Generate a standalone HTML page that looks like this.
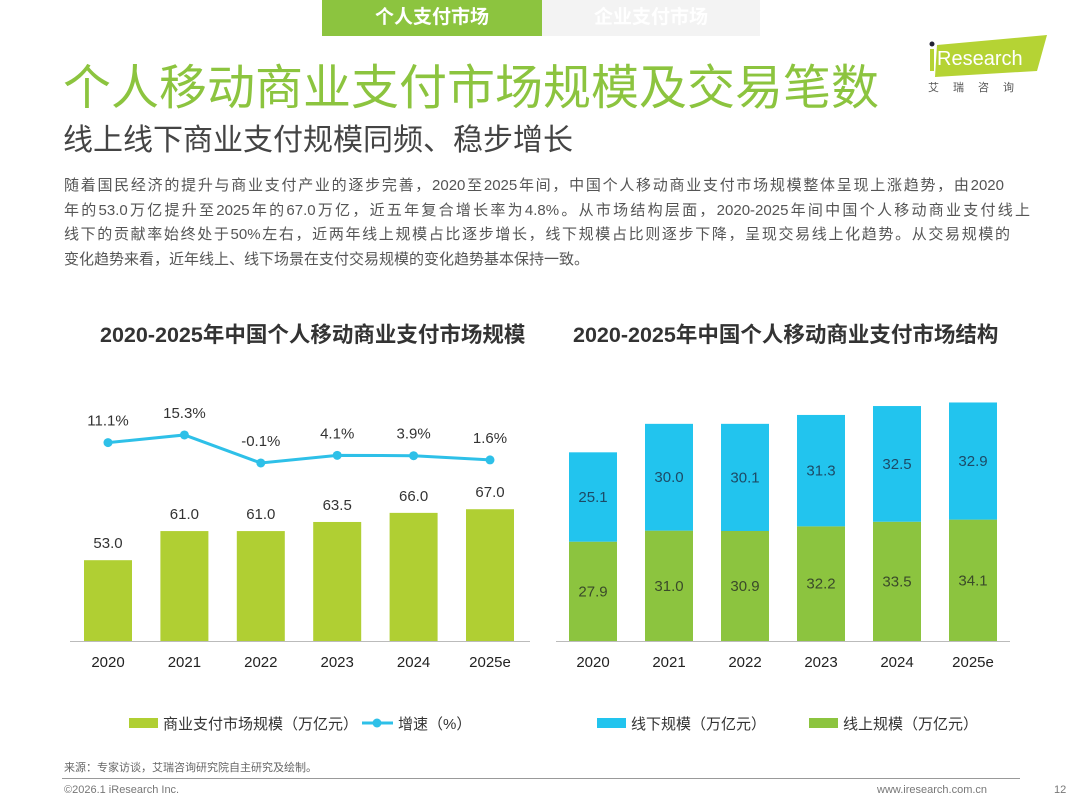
<!DOCTYPE html>
<html><head><meta charset="utf-8">
<style>
body{margin:0;width:1080px;height:810px;background:#fff;overflow:hidden;position:relative;font-family:"Liberation Sans","Noto Sans CJK SC",sans-serif;}
.abs{position:absolute;}
.ln{display:block;white-space:nowrap;text-align:justify;text-align-last:justify;overflow:hidden;height:24.5px;}
</style></head><body>
<div class="abs" style="left:322px;top:0;width:220px;height:36px;background:#8cc43f;color:#fff;font-size:19px;font-weight:bold;text-align:center;line-height:36px;">个人支付市场</div>
<div class="abs" style="left:542px;top:0;width:218px;height:36px;background:#f3f3f3;color:#fff;font-size:19px;font-weight:bold;text-align:center;line-height:36px;">企业支付市场</div>
<div class="abs" style="left:63px;top:48px;font-size:48px;color:#8cc43f;white-space:nowrap;">个人移动商业支付市场规模及交易笔数</div>
<div class="abs" style="left:63px;top:115px;font-size:30px;color:#444;white-space:nowrap;">线上线下商业支付规模同频、稳步增长</div>
<div class="abs" style="left:925px;top:35px;width:125px;height:60px;">
<svg width="125" height="60"><polygon points="12,10 122,0 112,36 10,42" fill="#b5d334"/><circle cx="7" cy="9" r="2.5" fill="#223"/><rect x="5" y="14" width="4" height="22" fill="#b5d334"/><text x="12" y="30" font-size="20" fill="#fff" font-family="Liberation Sans">Research</text><text x="3" y="56" font-size="11" fill="#555" letter-spacing="14">艾瑞咨询</text></svg></div>
<div class="abs" style="left:64px;top:174px;font-size:15px;line-height:24.5px;color:#555;">
<span class="ln" style="width:940px">随着国民经济的提升与商业支付产业的逐步完善，2020至2025年间，中国个人移动商业支付市场规模整体呈现上涨趋势，由2020</span>
<span class="ln" style="width:966px">年的53.0万亿提升至2025年的67.0万亿，近五年复合增长率为4.8%。从市场结构层面，2020-2025年间中国个人移动商业支付线上</span>
<span class="ln" style="width:946px">线下的贡献率始终处于50%左右，近两年线上规模占比逐步增长，线下规模占比则逐步下降，呈现交易线上化趋势。从交易规模的</span>
<span class="ln" style="width:570px;text-align-last:auto">变化趋势来看，近年线上、线下场景在支付交易规模的变化趋势基本保持一致。</span>
</div>
<div class="abs" style="left:100px;top:318px;font-size:21.5px;font-weight:bold;color:#333;white-space:nowrap;">2020-2025年中国个人移动商业支付市场规模</div>
<div class="abs" style="left:573px;top:318px;font-size:21.5px;font-weight:bold;color:#333;white-space:nowrap;">2020-2025年中国个人移动商业支付市场结构</div>
<svg class="abs" style="left:0;top:0" width="1080" height="810" id="charts" font-family="Liberation Sans, Noto Sans CJK SC, sans-serif"></svg>
<div class="abs" style="left:64px;top:759px;font-size:11px;color:#666;">来源：专家访谈，艾瑞咨询研究院自主研究及绘制。</div>
<div class="abs" style="left:62px;top:778px;width:958px;height:1px;background:#999;"></div>
<div class="abs" style="left:64px;top:784px;font-size:11px;color:#777;">©2026.1 iResearch Inc.</div>
<div class="abs" style="left:877px;top:784px;font-size:11px;color:#777;">www.iresearch.com.cn</div>
<div class="abs" style="left:1054px;top:784px;font-size:11px;color:#777;">12</div>
<script>
const years=["2020","2021","2022","2023","2024","2025e"];
const marketSize=[53.0,61.0,61.0,63.5,66.0,67.0];
const growth=[11.1,15.3,-0.1,4.1,3.9,1.6];
const offline=[25.1,30.0,30.1,31.3,32.5,32.9];
const online=[27.9,31.0,30.9,32.2,33.5,34.1];
const svg=document.getElementById('charts');
const NS='http://www.w3.org/2000/svg';
function mk(tag,attrs,txt){const e=document.createElementNS(NS,tag);for(const k in attrs)e.setAttribute(k,attrs[k]);if(txt!==undefined)e.textContent=txt;svg.appendChild(e);return e;}
const base=641;
const lx=i=>108+i*76.4;
const ly=v=>base-3.64*(v-30.8);
const gy=v=>462.8-1.82*v;
let e=mk('line',{x1:70,y1:641.5,x2:530,y2:641.5,stroke:'#bbb','stroke-width':1});

marketSize.forEach((v,i)=>{
 let r=mk('rect',{x:lx(i)-24,y:ly(v),width:48,height:base-ly(v),fill:'#b0cf33'});
 
 
 let t=mk('text',{x:lx(i),y:ly(v)-12,'text-anchor':'middle','font-size':15,fill:'#333'},v.toFixed(1));
 
 
 let a=mk('text',{x:lx(i),y:667,'text-anchor':'middle','font-size':15,fill:'#222'},years[i]);
 
 
});
let pl=mk('polyline',{points:growth.map((v,i)=>lx(i)+','+gy(v)).join(' '),fill:'none',stroke:'#2ec0e8','stroke-width':3});


growth.forEach((v,i)=>{
 let c=mk('circle',{cx:lx(i),cy:gy(v),r:4.5,fill:'#2ec0e8'});
 
 
 let t=mk('text',{x:lx(i),y:gy(v)-17,'text-anchor':'middle','font-size':15,fill:'#333'},v.toFixed(1)+'%');
 
 
});
const rx=i=>593+i*76;
const rs=3.56;
e=mk('line',{x1:556,y1:641.5,x2:1010,y2:641.5,stroke:'#bbb','stroke-width':1});

years.forEach((y,i)=>{
 const hOn=online[i]*rs,hOff=offline[i]*rs;
 let g=mk('rect',{x:rx(i)-24,y:base-hOn,width:48,height:hOn,fill:'#8cc43f'});
 
 
 let b=mk('rect',{x:rx(i)-24,y:base-hOn-hOff,width:48,height:hOff,fill:'#22c4ee'});
 
 
 let t1=mk('text',{x:rx(i),y:base-hOn/2+5,'text-anchor':'middle','font-size':15,fill:'#3a4a2a'},online[i].toFixed(1));
 
 
 let t2=mk('text',{x:rx(i),y:base-hOn-hOff/2+5,'text-anchor':'middle','font-size':15,fill:'#1d4a66'},offline[i].toFixed(1));
 
 
 let a=mk('text',{x:rx(i),y:667,'text-anchor':'middle','font-size':15,fill:'#222'},y);
 
 
});
e=mk('rect',{x:129,y:718,width:29,height:10,fill:'#b0cf33'});

e=mk('text',{x:163,y:729,'font-size':15,fill:'#333'},'商业支付市场规模（万亿元）');

e=mk('line',{x1:362,y1:723,x2:393,y2:723,stroke:'#2ec0e8','stroke-width':3});

e=mk('circle',{cx:377,cy:723,r:4.5,fill:'#2ec0e8'});

e=mk('text',{x:398,y:729,'font-size':15,fill:'#333'},'增速（%）');

e=mk('rect',{x:597,y:718,width:29,height:10,fill:'#22c4ee'});

e=mk('text',{x:631,y:729,'font-size':15,fill:'#333'},'线下规模（万亿元）');

e=mk('rect',{x:809,y:718,width:29,height:10,fill:'#8cc43f'});

e=mk('text',{x:843,y:729,'font-size':15,fill:'#333'},'线上规模（万亿元）');

</script>
</body></html>
